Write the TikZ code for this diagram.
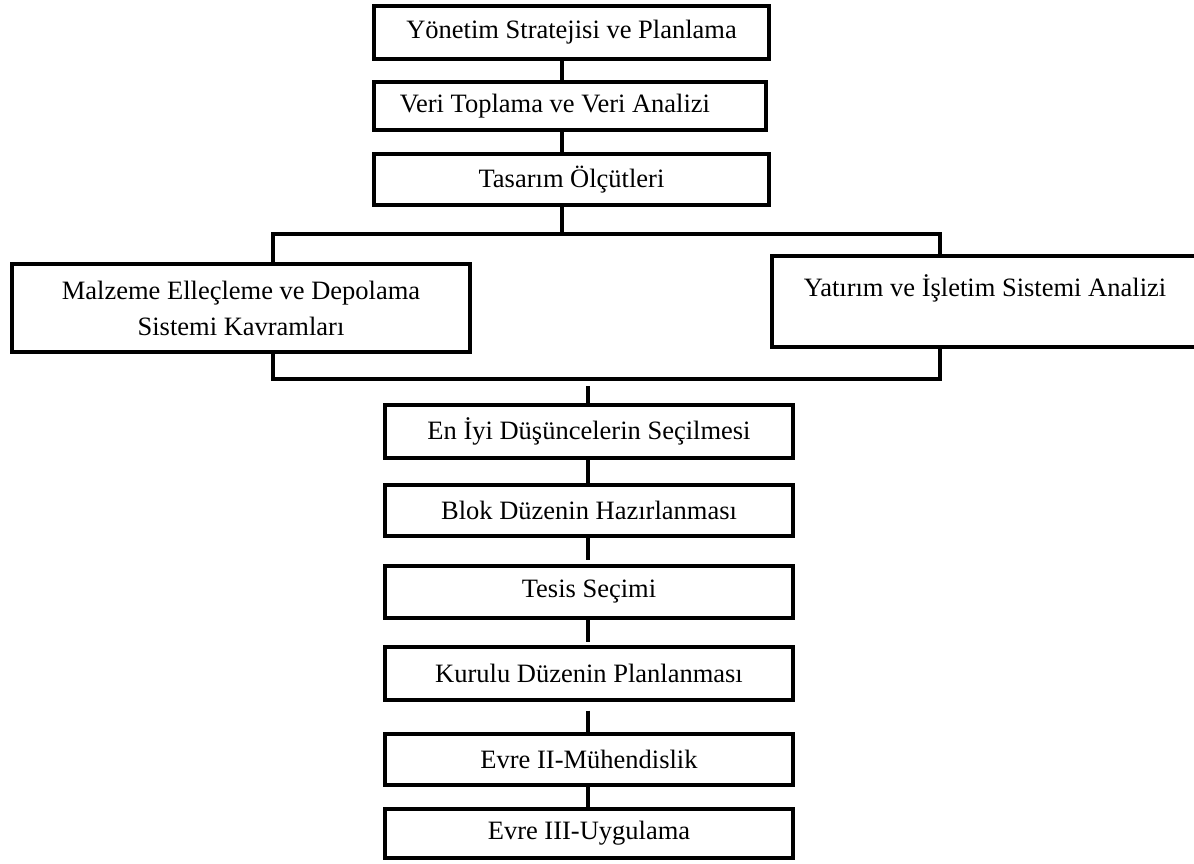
\documentclass[tikz,border=0pt]{standalone}
\usepackage{fontspec}
\setmainfont{Liberation Serif}
\usetikzlibrary{calc}
\begin{document}
\begin{tikzpicture}[x=1pt,y=-1pt,
  box/.style={draw=black,line width=3.4pt,fill=white,inner sep=0pt,
    align=center,font=\fontsize{26.5}{36}\selectfont},
  link/.style={draw=black,line width=3.2pt}]
\useasboundingbox (0,0) rectangle (1194,864);
% top chain
\node[box,minimum width=395,minimum height=53] (b1) at (571.5,32.5) {Yönetim Stratejisi ve Planlama};
\node[box,minimum width=392,minimum height=48] (b2) at (570,106) {Veri Toplama ve Veri Analizi\hspace{30pt}};
\node[box,minimum width=395,minimum height=51] (b3) at (571.5,179.5) {Tasarım Ölçütleri};
% side boxes
\node[box,minimum width=458,minimum height=88] (lb) at (241,308) {Malzeme Elleçleme ve Depolama\\Sistemi Kavramları};
\node[box,minimum width=426,minimum height=91] (rb) at (985,301.5) {\raisebox{13pt}[\height][\depth]{Yatırım ve İşletim Sistemi Analizi}};
% bottom chain
\node[box,minimum width=408,minimum height=53] (e1) at (589,431.5) {En İyi Düşüncelerin Seçilmesi};
\node[box,minimum width=408,minimum height=51] (e2) at (589,510.5) {Blok Düzenin Hazırlanması};
\node[box,minimum width=408,minimum height=52] (e3) at (589,592) {Tesis Seçimi};
\node[box,minimum width=408,minimum height=53] (e4) at (589,673.5) {Kurulu Düzenin Planlanması};
\node[box,minimum width=408,minimum height=51] (e5) at (589,759.5) {Evre II-Mühendislik};
\node[box,minimum width=408,minimum height=49] (e6) at (589,833.5) {Evre III-Uygulama};
% junction coordinates
\coordinate (tx) at (562,0);
\coordinate (jt) at (562,234);
\coordinate (jl) at (273,234);
\coordinate (jr) at (940,234);
\coordinate (bl) at (273,379);
\coordinate (br) at (940,379);
\coordinate (bx) at (588,386);
% connectors
\draw[link] (b1.south -| tx) -- (b2.north -| tx);
\draw[link] (b2.south -| tx) -- (b3.north -| tx);
\draw[link] (b3.south -| tx) -- (jt);
\draw[link] (lb.north -| jl) -- (jl) -- (jr) -- (rb.north -| jr);
\draw[link] (lb.south -| bl) -- (bl) -- (br) -- (rb.south -| br);
\draw[link] (bx) -- (e1.north -| bx);
\draw[link] (e1.south -| bx) -- (e2.north -| bx);
\draw[link] (e2.south -| bx) -- ($(e3.north -| bx)+(0,-4)$);
\draw[link] (e3.south -| bx) -- ($(e4.north -| bx)+(0,-3)$);
\draw[link] ($(e4.south -| bx)+(0,9)$) -- (e5.north -| bx);
\draw[link] (e5.south -| bx) -- (e6.north -| bx);
\end{tikzpicture}
\end{document}
